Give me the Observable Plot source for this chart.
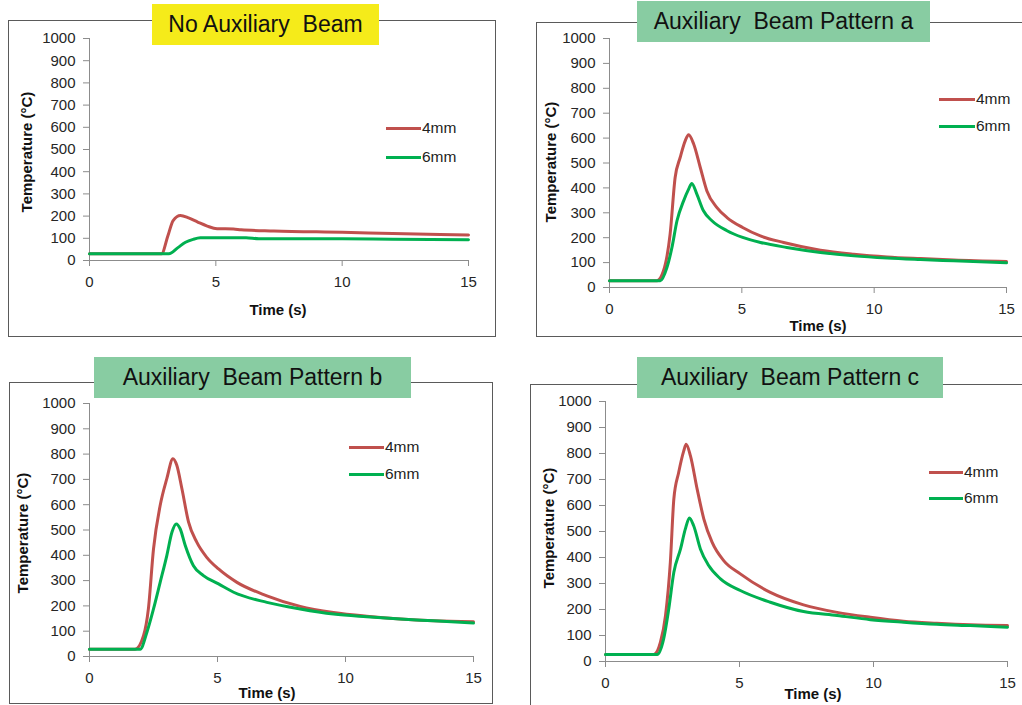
<!DOCTYPE html>
<html>
<head>
<meta charset="utf-8">
<script src="https://cdn.jsdelivr.net/npm/d3@7"></script>
<script src="https://cdn.jsdelivr.net/npm/@observablehq/plot@0.6"></script>
<style>
  html, body { margin: 0; padding: 0; background: #fff; }
  #page { position: relative; width: 1022px; height: 705px; overflow: hidden; background: #fff;
          font-family: "Liberation Sans", Arial, sans-serif; }
  .box { position: absolute; border: 1.5px solid #5a5a5a; box-sizing: border-box; }
  .title { position: absolute; display: flex; align-items: center; justify-content: center;
           font-size: 23px; color: #111; white-space: pre; }
  .xlab, .ylab { position: absolute; font-weight: bold; font-size: 15px; color: #111; white-space: nowrap; }
  .ylab { transform: translate(-50%, -50%) rotate(-90deg); }
  .xlab { transform: translate(-50%, -50%); }
  .leg { position: absolute; font-size: 15.5px; color: #222; display: flex; align-items: center; }
  .leg span.sw { display: inline-block; height: 3px; margin-right: 1px; }
  svg.plt { position: absolute; }
</style>
</head>
<body>
<div id="page"></div>
<script>
// Temperature histories (°C vs. s) at 4 mm and 6 mm for each beam setup
const seriesNames = ["4mm", "6mm"];
const seriesColors = ["#C0504D", "#00B050"];
const xTicks = [0, 5, 10, 15];
const yTicks = [0, 100, 200, 300, 400, 500, 600, 700, 800, 900, 1000];
const titles = ["No Auxiliary  Beam", "Auxiliary  Beam Pattern a", "Auxiliary  Beam Pattern b", "Auxiliary  Beam Pattern c"];

// No auxiliary beam
const noAuxTime4 = [0, 1, 2, 2.5, 2.85, 3.1, 3.31, 3.6, 3.92, 4.3, 4.66, 5.05, 5.7, 6.0, 7.3, 10, 12, 15];
const noAuxTemp4 = [30, 30, 30, 30, 30, 110, 180, 203, 192, 172, 155, 143, 142, 138, 133, 127, 122, 115];
const noAuxTime6 = [0, 1, 2, 2.7, 3.14, 3.5, 3.8, 4.1, 4.39, 5, 6.2, 6.7, 10, 12, 15];
const noAuxTemp6 = [30, 30, 30, 30, 30, 58, 82, 95, 102, 103, 103, 98, 98, 96, 93];

// Pattern a
const patATime4 = [0, 0.6, 1.2, 1.79, 2.04, 2.29, 2.48, 2.67, 2.86, 2.99, 3.18, 3.43, 3.68, 4.06, 4.44, 5.03, 5.7, 6.58, 7.97, 9.23, 10.49, 11.75, 13, 15];
const patATemp4 = [27, 27, 27, 27, 67, 214, 442, 522, 589, 613, 576, 482, 388, 321, 281, 241, 207, 181, 150, 134, 123, 116, 110, 104];
const patATime6 = [0, 0.6, 1.2, 1.92, 2.17, 2.36, 2.55, 2.8, 2.99, 3.11, 3.3, 3.55, 3.87, 4.44, 5.03, 5.7, 6.7, 7.97, 9.23, 10.49, 11.75, 13, 15];
const patATemp6 = [27, 27, 27, 27, 80, 161, 268, 348, 395, 418, 375, 308, 268, 228, 201, 181, 161, 141, 127, 118, 112, 107, 99];

// Pattern b
const patBTime4 = [0, 0.6, 1.2, 1.78, 2.11, 2.3, 2.5, 2.76, 3.02, 3.26, 3.41, 3.61, 3.87, 4.19, 4.58, 5.04, 5.76, 6.93, 8.23, 9.53, 10.83, 12.14, 13.44, 15];
const patBTemp4 = [29, 29, 29, 29, 82, 188, 425, 597, 703, 782, 756, 663, 531, 452, 392, 346, 293, 240, 198, 174, 159, 148, 141, 137];
const patBTime6 = [0, 0.6, 1.2, 1.98, 2.24, 2.5, 2.76, 3.02, 3.22, 3.39, 3.54, 3.74, 4.06, 4.45, 5.04, 5.63, 6.93, 8.23, 9.53, 10.83, 12.14, 13.44, 15];
const patBTemp6 = [29, 29, 29, 29, 95, 188, 293, 399, 491, 524, 505, 439, 359, 320, 287, 254, 214, 188, 168, 157, 148, 141, 132];

// Pattern c
const patCTime4 = [0, 0.6, 1.2, 1.8, 2.05, 2.24, 2.42, 2.55, 2.73, 2.92, 3.01, 3.17, 3.42, 3.67, 3.98, 4.41, 5.03, 6.15, 7.39, 8.64, 9.88, 11.12, 12.36, 13.61, 15];
const patCTemp4 = [27, 27, 27, 27, 74, 177, 382, 625, 727, 810, 836, 791, 663, 548, 458, 388, 337, 266, 218, 189, 170, 155, 147, 141, 138];
const patCTime6 = [0, 0.6, 1.2, 1.93, 2.17, 2.36, 2.55, 2.8, 2.98, 3.13, 3.29, 3.54, 3.85, 4.29, 5.03, 6.15, 7.39, 8.64, 9.88, 11.12, 12.36, 13.61, 15];
const patCTemp6 = [27, 27, 27, 27, 87, 202, 343, 433, 510, 552, 522, 433, 369, 318, 273, 228, 192, 177, 161, 151, 143, 138, 132];

const rows = (time, temp, name) => time.map((t, i) => ({t, T: temp[i], name}));

const panels = [
  {
    title: titles[0], titleBg: "#F5EB1A",
    box: [8, 20, 488, 317], tbox: [152, 4, 227, 41],
    frame: [89, 468, 38, 260],
    ylab: [26, 152], xlab: [278, 309], legend: [386, 35, 128, 157],
    data: [rows(noAuxTime4, noAuxTemp4, "4mm"), rows(noAuxTime6, noAuxTemp6, "6mm")]
  },
  {
    title: titles[1], titleBg: "#88CCA2",
    box: [536, 22, 520, 315], tbox: [637, 1, 293, 41],
    frame: [609, 1006, 38, 287],
    ylab: [550, 162], xlab: [818, 325], legend: [939, 36, 99, 126],
    data: [rows(patATime4, patATemp4, "4mm"), rows(patATime6, patATemp6, "6mm")]
  },
  {
    title: titles[2], titleBg: "#88CCA2",
    box: [9, 382, 484, 322], tbox: [94, 357, 317, 41],
    frame: [89, 473, 403, 656],
    ylab: [22, 533], xlab: [267, 692], legend: [349, 35, 447, 474],
    data: [rows(patBTime4, patBTemp4, "4mm"), rows(patBTime6, patBTemp6, "6mm")]
  },
  {
    title: titles[3], titleBg: "#88CCA2",
    box: [530, 384, 520, 400], tbox: [637, 357, 306, 41],
    frame: [605, 1007, 401, 661],
    ylab: [548, 528], xlab: [813, 693], legend: [929, 34, 472, 498],
    data: [rows(patCTime4, patCTemp4, "4mm"), rows(patCTime6, patCTemp6, "6mm")]
  }
];

const page = document.getElementById("page");

function el(cls, css, text) {
  const d = document.createElement("div");
  d.className = cls;
  Object.assign(d.style, css);
  if (text != null) d.textContent = text;
  page.appendChild(d);
  return d;
}

for (const p of panels) {
  const [bx, by, bw, bh] = p.box;
  el("box", {left: bx + "px", top: by + "px", width: bw + "px", height: bh + "px"});

  const [x0, x1, yTop, yBot] = p.frame;
  const mL = 75, mR = 25, mT = 15, mB = 40;
  const chart = Plot.plot({
    width: (x1 - x0) + mL + mR,
    height: (yBot - yTop) + mT + mB,
    marginLeft: mL, marginRight: mR, marginTop: mT, marginBottom: mB,
    style: {background: "transparent", overflow: "visible", fontFamily: "Liberation Sans, Arial, sans-serif"},
    x: {domain: [0, 15]},
    y: {domain: [0, 1000]},
    color: {domain: seriesNames, range: seriesColors},
    marks: [
      Plot.axisY({ticks: yTicks, tickFormat: d => String(d), tickSize: 6, tickPadding: 8, fontSize: 15, stroke: "#8c8c8c", fill: "#262626", label: null}),
      Plot.axisX({ticks: xTicks, tickFormat: d => String(d), tickSize: 6, tickPadding: 10, fontSize: 15, stroke: "#8c8c8c", fill: "#262626", label: null}),
      Plot.ruleX([0], {stroke: "#8c8c8c"}),
      Plot.ruleY([0], {stroke: "#8c8c8c"}),
      ...p.data.map(d => Plot.line(d, {x: "t", y: "T", stroke: "name", strokeWidth: 3, curve: "monotone-x"}))
    ]
  });
  chart.classList.add("plt");
  chart.style.left = (x0 - mL) + "px";
  chart.style.top = (yTop - mT) + "px";
  page.appendChild(chart);

  const [tx, ty, tw, th] = p.tbox;
  el("title", {left: tx + "px", top: ty + "px", width: tw + "px", height: th + "px", background: p.titleBg}, p.title);

  el("ylab", {left: p.ylab[0] + "px", top: p.ylab[1] + "px"}, "Temperature (°C)");
  el("xlab", {left: p.xlab[0] + "px", top: p.xlab[1] + "px"}, "Time (s)");

  const [lx, llen, ly1, ly2] = p.legend;
  [ly1, ly2].forEach((ly, i) => {
    const row = el("leg", {left: lx + "px", top: (ly - 9) + "px", height: "18px"});
    const sw = document.createElement("span");
    sw.className = "sw";
    sw.style.width = llen + "px";
    sw.style.background = seriesColors[i];
    row.appendChild(sw);
    row.appendChild(document.createTextNode(seriesNames[i]));
  });
}
</script>
</body>
</html>
